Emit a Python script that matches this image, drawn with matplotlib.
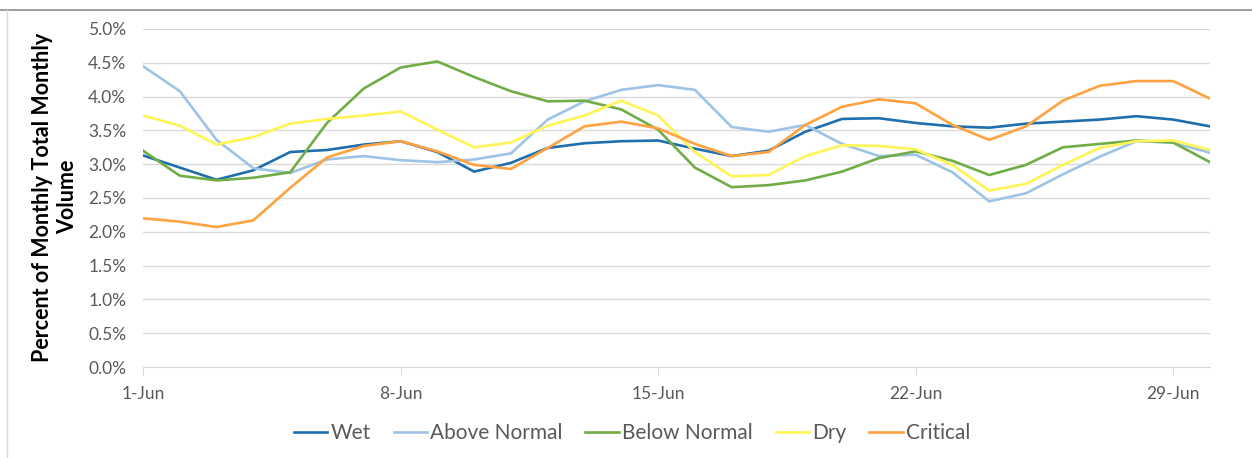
import matplotlib.pyplot as plt
from matplotlib.lines import Line2D

# June daily share of monthly volume, by water year type (percent)
days = list(range(1, 31))

wet = [3.13, 2.95, 2.77, 2.91, 3.18, 3.21, 3.29, 3.34, 3.18, 2.89,
       3.02, 3.24, 3.31, 3.34, 3.35, 3.23, 3.12, 3.20, 3.48, 3.67,
       3.68, 3.61, 3.56, 3.54, 3.60, 3.63, 3.66, 3.71, 3.66, 3.56]
above_normal = [4.45, 4.08, 3.36, 2.94, 2.87, 3.07, 3.12, 3.06, 3.03, 3.07,
                3.16, 3.66, 3.93, 4.10, 4.17, 4.10, 3.55, 3.48, 3.58, 3.30,
                3.12, 3.14, 2.88, 2.45, 2.57, 2.85, 3.11, 3.34, 3.32, 3.17]
below_normal = [3.20, 2.83, 2.76, 2.80, 2.88, 3.61, 4.12, 4.43, 4.52, 4.29,
                4.08, 3.93, 3.94, 3.81, 3.51, 2.95, 2.66, 2.69, 2.76, 2.89,
                3.09, 3.19, 3.05, 2.84, 2.99, 3.25, 3.30, 3.35, 3.32, 3.03]
dry = [3.72, 3.57, 3.29, 3.40, 3.60, 3.67, 3.72, 3.78, 3.51, 3.25,
       3.32, 3.57, 3.72, 3.94, 3.72, 3.18, 2.82, 2.84, 3.12, 3.28,
       3.27, 3.22, 2.99, 2.61, 2.71, 2.99, 3.24, 3.34, 3.35, 3.21]
critical = [2.20, 2.15, 2.07, 2.17, 2.65, 3.10, 3.27, 3.34, 3.19, 2.99,
            2.93, 3.24, 3.56, 3.63, 3.53, 3.30, 3.12, 3.18, 3.58, 3.85,
            3.96, 3.90, 3.58, 3.36, 3.56, 3.94, 4.16, 4.23, 4.23, 3.97]

series = [("Wet", wet, "#1F6EAD"),
          ("Above Normal", above_normal, "#9DC3E6"),
          ("Below Normal", below_normal, "#70AD47"),
          ("Dry", dry, "#FFF455"),
          ("Critical", critical, "#FFA23F")]

tick_days = [1, 8, 15, 22, 29]
tick_labels = ["1-Jun", "8-Jun", "15-Jun", "22-Jun", "29-Jun"]
y_ticks = [i * 0.5 for i in range(11)]

plt.rcParams['font.family'] = ['Lato', 'DejaVu Sans']
grey = "#595959"

W, H = 1252, 458
fig = plt.figure(figsize=(W / 100, H / 100), dpi=100)
ax = fig.add_axes([143 / W, 1 - 367 / H, 1067 / W, 338 / H])

for name, vals, color in series:
    ax.plot(days, vals, color=color, lw=1.9, label=name, solid_joinstyle='round')

ax.set_xlim(1, 30)
ax.set_ylim(0, 5)
ax.set_yticks(y_ticks)
ax.set_yticklabels(["%.1f%%" % v for v in y_ticks])
ax.set_xticks(tick_days)
ax.set_xticklabels(tick_labels)
ax.grid(axis='y', color="#D9D9D9", lw=1)
ax.set_axisbelow(True)

for side in ("top", "right", "left"):
    ax.spines[side].set_visible(False)
ax.spines["bottom"].set_color("#D9D9D9")
ax.tick_params(axis='y', length=0, pad=12, labelsize=12.5, labelcolor=grey)
ax.tick_params(axis='x', length=6, color="#D9D9D9", pad=8, labelsize=12.5,
               labelcolor=grey)

fig.text(55 / W, 1 - 197 / H, "Percent of Monthly Total Monthly\nVolume",
         rotation=90, ha='center', va='center', multialignment='center',
         fontsize=15.5, fontweight='bold', color="black", linespacing=1.25)

handles = [Line2D([], [], color=c, lw=1.9) for _, _, c in series]
fig.legend(handles, [s[0] for s in series], loc='center',
           bbox_to_anchor=(632 / W, 1 - 433 / H), ncol=5, frameon=False,
           fontsize=15, labelcolor=grey, handlelength=1.6, handletextpad=0.15,
           columnspacing=1.1)

# chart frame
fig.add_artist(Line2D([0, 1], [1 - 9.5 / H] * 2, color="#8C8C8C", lw=1.2))
fig.add_artist(Line2D([7 / W] * 2, [0, 1 - 9.5 / H], color="#D9D9D9", lw=1))

fig.savefig("out.png", dpi=100)
